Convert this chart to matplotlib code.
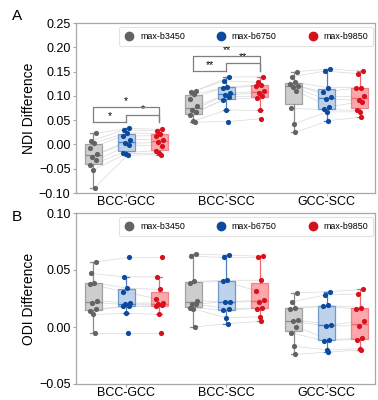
import numpy as np
import matplotlib
matplotlib.use("Agg")
import matplotlib.pyplot as plt
from matplotlib.lines import Line2D

plt.rcParams['font.family'] = ['Liberation Sans', 'DejaVu Sans']

categories = ["BCC-GCC", "BCC-SCC", "GCC-SCC"]
series = ["max-b3450", "max-b6750", "max-b9850"]

# Panel A: NDI difference (per category, per series, 10 subjects)
ndi_b3450 = [
    [0.023, 0.007, 0.003, -0.008, -0.020, -0.025, -0.033, -0.043, -0.053, -0.089],
    [0.111, 0.108, 0.103, 0.094, 0.080, 0.070, 0.066, 0.061, 0.048, 0.046],
    [0.150, 0.139, 0.128, 0.124, 0.121, 0.118, 0.110, 0.074, 0.042, 0.025],
]
ndi_b6750 = [
    [0.033, 0.030, 0.024, 0.017, 0.010, 0.002, -0.001, -0.017, -0.019, -0.022],
    [0.139, 0.131, 0.119, 0.116, 0.106, 0.102, 0.098, 0.092, 0.071, 0.047],
    [0.155, 0.151, 0.117, 0.108, 0.098, 0.093, 0.078, 0.072, 0.067, 0.049],
]
ndi_b9850 = [
    [0.031, 0.028, 0.022, 0.018, 0.010, 0.004, -0.003, -0.013, -0.018, -0.021],
    [0.139, 0.128, 0.122, 0.120, 0.110, 0.106, 0.100, 0.096, 0.070, 0.053],
    [0.151, 0.146, 0.117, 0.116, 0.100, 0.091, 0.088, 0.070, 0.067, 0.056],
]

# Panel B: ODI difference
odi_b3450 = [
    [0.057, 0.047, 0.039, 0.038, 0.023, 0.021, 0.016, 0.014, 0.011, -0.005],
    [0.064, 0.062, 0.040, 0.039, 0.023, 0.020, 0.020, 0.017, 0.016, 0.000],
    [0.030, 0.022, 0.017, 0.016, 0.006, 0.005, 0.000, -0.005, -0.017, -0.024],
]
odi_b6750 = [
    [0.061, 0.044, 0.034, 0.031, 0.021, 0.020, 0.018, 0.018, 0.012, -0.005],
    [0.063, 0.061, 0.041, 0.040, 0.022, 0.022, 0.016, 0.015, 0.008, 0.003],
    [0.031, 0.028, 0.019, 0.018, 0.002, 0.001, -0.011, -0.012, -0.020, -0.022],
]
odi_b9850 = [
    [0.061, 0.044, 0.033, 0.025, 0.021, 0.020, 0.019, 0.018, 0.011, -0.005],
    [0.062, 0.061, 0.041, 0.032, 0.024, 0.022, 0.017, 0.016, 0.009, 0.005],
    [0.033, 0.029, 0.017, 0.016, 0.005, 0.001, -0.010, -0.011, -0.019, -0.020],
]

# significance annotations (panel A): category index, base, bracket heights, labels
sig_categories = [0, 1]
sig_base = [0.047, 0.152]
sig_h_mid = [0.060, 0.1675]
sig_h_top = [0.078, 0.183]
sig_labels = [["*", "*", "*"], ["**", "**", "**"]]

point_colors = ["#636363", "#0b4a9c", "#d7101c"]
box_faces = ["#bdbdbd", "#a9c4e6", "#fb8a8f"]
box_edges = ["#8c8c8c", "#4f7fbf", "#ee6a72"]
offsets = [-0.33, 0.0, 0.33]
jit = np.array([0.03, -0.02, 0.01, -0.035, 0.04, -0.01, 0.025, -0.03, 0.0, 0.015])
spine_col = "#a8a8a8"


def draw_panel(ax, data_sets, ylim, yticks, ylabel):
    for c in range(len(categories)):
        xs_all = []
        ys_all = []
        for s in range(3):
            vals = np.array(data_sets[s][c])
            pos = c + offsets[s]
            ax.boxplot([vals], positions=[pos], widths=0.17, patch_artist=True,
                       showfliers=False, capwidths=0.06,
                       boxprops=dict(facecolor=box_faces[s], edgecolor=box_edges[s],
                                     linewidth=0.9, alpha=0.75),
                       medianprops=dict(color=box_edges[s], linewidth=0.9),
                       whiskerprops=dict(color=box_edges[s], linewidth=0.9),
                       capprops=dict(color=box_edges[s], linewidth=0.9),
                       zorder=2, manage_ticks=False)
            xs = pos + jit[:len(vals)]
            xs_all.append(xs)
            ys_all.append(vals)
            ax.scatter(xs, vals, s=14, color=point_colors[s], zorder=4,
                       linewidths=0)
        for i in range(len(ys_all[0])):
            ax.plot([xs_all[k][i] for k in range(3)], [ys_all[k][i] for k in range(3)],
                    color="#d9d9d9", lw=0.5, zorder=1)
    ax.set_xlim(-0.5, 2.48)
    ax.set_ylim(*ylim)
    ax.set_yticks(yticks)
    ax.set_xticks(range(len(categories)))
    ax.set_xticklabels(categories, fontsize=9)
    ax.tick_params(axis='y', labelsize=9, length=2.5, width=0.8, color=spine_col, pad=1.5)
    ax.tick_params(axis='x', length=2, width=0.8, color=spine_col, pad=0.5)
    ax.set_ylabel(ylabel, fontsize=10, labelpad=2)
    for sp in ax.spines.values():
        sp.set_color(spine_col)
        sp.set_linewidth(0.9)
    handles = [Line2D([], [], marker='o', linestyle='none', color=point_colors[s],
                      markersize=6, label=series[s]) for s in range(3)]
    leg = ax.legend(handles=handles, loc='upper left', ncol=3, fontsize=6.4,
                    bbox_to_anchor=(0.144, 0.977, 0.849, 0.0), mode='expand',
                    frameon=True, fancybox=True, edgecolor="#dcdcdc",
                    handletextpad=0.6, borderpad=0.55, handlelength=1.2,
                    borderaxespad=0.0)
    leg.get_frame().set_linewidth(0.8)


fig = plt.figure(figsize=(3.78, 4.0), dpi=100)
axA = fig.add_axes([0.201, 0.5175, 0.791, 0.425])
axB = fig.add_axes([0.201, 0.0400, 0.791, 0.4275])

draw_panel(axA, [ndi_b3450, ndi_b6750, ndi_b9850], (-0.10, 0.25),
           [-0.10, -0.05, 0.0, 0.05, 0.10, 0.15, 0.20, 0.25], "NDI Difference")
draw_panel(axB, [odi_b3450, odi_b6750, odi_b9850], (-0.05, 0.10),
           [-0.05, 0.0, 0.05, 0.10], "ODI Difference")

bcol = "#7f7f7f"
for k, c in enumerate(sig_categories):
    x0, x1, x2 = c + offsets[0], c + offsets[1], c + offsets[2]
    b, hm, ht = sig_base[k], sig_h_mid[k], sig_h_top[k]
    axA.plot([x0, x1], [b, b], color=bcol, lw=0.9, zorder=5)
    axA.plot([x1, x1, x2, x2], [b, hm, hm, b], color=bcol, lw=0.9, zorder=5)
    axA.plot([x0, x0, x2, x2], [b, ht, ht, b], color=bcol, lw=0.9, zorder=5)
    labs = sig_labels[k]
    axA.text((x0 + x1) / 2, b + 0.002, labs[0], ha='center', va='bottom', fontsize=7.5)
    axA.text((x1 + x2) / 2, hm + 0.002, labs[1], ha='center', va='bottom', fontsize=7.5)
    axA.text((x0 + x2) / 2, ht + 0.0, labs[2], ha='center', va='bottom', fontsize=7.5)

fig.text(12 / 378, 1 - 16 / 400, "A", fontsize=11, ha='left', va='center')
fig.text(12 / 378, 1 - 217 / 400, "B", fontsize=11, ha='left', va='center')

fig.savefig("out.png", dpi=100)
